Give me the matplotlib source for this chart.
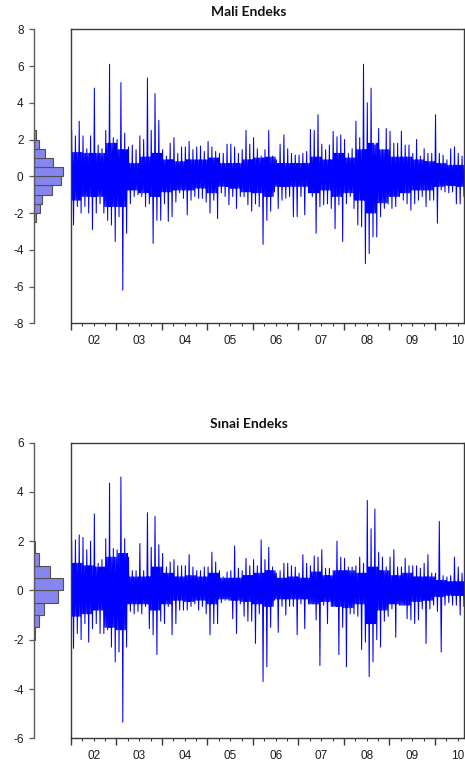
import numpy as np
import matplotlib
matplotlib.use("Agg")
import matplotlib.pyplot as plt
from matplotlib.ticker import FixedLocator, FuncFormatter, NullFormatter

# ---------------- data ----------------
start_year = 2002

# monthly maximum / minimum of daily returns, Jan 2002 ... Aug 2010
mali_max = [2.5, 2.2, 3.0, 2.2, 1.5, 2.2, 4.8, 1.7, 1.5, 2.5,
            6.1, 2.1, 2.0, 5.1, 2.35, 1.6, 1.7, 1.45, 2.2, 2.0,
            5.35, 2.5, 4.5, 3.05, 1.45, 1.1, 1.8, 2.1, 1.25, 1.6,
            1.6, 1.9, 1.45, 1.6, 1.65, 1.35, 1.9, 1.6, 1.35, 1.25,
            1.25, 1.75, 1.75, 1.6, 1.25, 1.45, 2.5, 1.75, 2.1, 1.5,
            1.1, 1.45, 2.5, 1.1, 0.9, 1.75, 2.25, 1.5, 1.25, 1.15,
            1.15, 1.25, 1.35, 2.55, 2.5, 3.35, 1.75, 1.45, 1.7, 2.45,
            2.15, 2.25, 2.0, 1.25, 1.5, 3.0, 2.1, 6.1, 4.0, 4.8,
            1.7, 2.6, 1.45, 2.6, 2.45, 1.8, 1.8, 2.45, 1.7, 1.7,
            1.25, 2.0, 1.1, 1.5, 1.25, 1.25, 3.35, 1.25, 1.15, 0.9,
            1.5, 1.6, 1.25, 1.1]
mali_min = [-2.65, -1.65, -2.0, -1.65, -2.0, -2.9, -2.0, -1.5, -2.0, -2.4,
            -2.65, -3.55, -2.2, -6.2, -3.1, -1.5, -1.1, -1.0, -1.1, -1.65,
            -1.5, -3.65, -2.4, -2.4, -1.5, -2.45, -2.2, -1.4, -0.9, -1.2,
            -2.1, -1.3, -1.1, -1.2, -1.2, -1.4, -2.0, -1.3, -2.3, -0.9,
            -1.1, -1.55, -1.1, -1.75, -1.1, -1.1, -1.55, -1.9, -1.5, -1.65,
            -3.7, -2.4, -1.9, -0.85, -1.75, -1.3, -1.2, -1.1, -2.2, -2.2,
            -1.1, -2.1, -0.9, -1.1, -3.1, -1.65, -1.55, -1.5, -1.75, -2.85,
            -1.55, -3.55, -1.5, -1.1, -1.75, -2.65, -2.75, -4.75, -4.2, -3.3,
            -3.3, -2.2, -1.75, -1.5, -1.75, -1.65, -1.1, -1.3, -1.5, -1.85,
            -1.5, -1.3, -1.1, -1.65, -1.3, -1.3, -2.55, -0.75, -0.85, -0.9,
            -0.85, -1.5, -1.5, -1.1]
# dense core band per quarter (2002Q1 ... 2010Q3)
mali_core_hi = [1.3, 1.25, 1.25, 1.8,
                1.45, 0.7, 1.05, 1.25,
                0.9, 0.8, 0.9, 0.9,
                1.0, 0.7, 0.7, 0.9,
                1.0, 1.05, 0.7, 0.7,
                0.7, 1.05, 0.9, 1.25,
                1.0, 1.45, 1.8, 1.45,
                1.05, 1.05, 0.9, 0.8,
                0.7, 0.6, 0.6]
mali_core_lo = [-1.3, -1.1, -1.1, -1.65,
                -1.65, -0.75, -0.9, -1.1,
                -0.85, -0.75, -0.75, -0.65,
                -0.9, -0.55, -0.65, -0.85,
                -0.9, -1.1, -0.55, -0.55,
                -0.55, -0.9, -0.75, -1.1,
                -0.9, -1.3, -2.0, -1.45,
                -1.1, -0.9, -0.75, -0.75,
                -0.55, -0.5, -0.55]

sinai_max = [2.05, 2.05, 2.25, 2.15, 1.65, 2.0, 3.1, 1.1, 1.25, 2.1,
             4.35, 1.7, 1.65, 4.6, 2.1, 1.35, 0.8, 0.8, 1.9, 0.8,
             3.15, 1.75, 3.0, 1.85, 1.5, 0.95, 1.15, 1.25, 1.0, 1.0,
             1.0, 1.45, 0.95, 0.8, 0.8, 0.95, 0.95, 1.55, 1.15, 0.8,
             0.55, 0.75, 0.8, 1.8, 0.9, 0.8, 1.3, 1.0, 1.25, 1.0,
             2.05, 1.25, 1.75, 0.95, 0.7, 0.8, 1.1, 1.1, 1.0, 0.95,
             0.7, 1.45, 1.1, 1.0, 1.4, 1.35, 1.65, 0.9, 0.9, 0.8,
             2.0, 1.35, 1.3, 0.95, 0.95, 1.0, 1.35, 1.1, 3.65, 2.5,
             3.3, 1.55, 1.35, 0.95, 1.35, 1.65, 0.95, 0.95, 1.3, 1.0,
             1.0, 1.0, 0.9, 1.1, 1.45, 0.7, 0.7, 2.8, 0.6, 0.55,
             0.6, 1.35, 0.95, 0.7]
sinai_min = [-2.35, -1.75, -2.0, -1.35, -2.1, -1.55, -1.35, -1.75, -1.75, -1.6,
             -2.3, -2.9, -2.5, -5.35, -2.3, -0.85, -0.95, -0.85, -0.95, -0.65,
             -1.55, -1.8, -2.6, -1.25, -1.35, -0.65, -1.8, -1.35, -0.8, -0.8,
             -0.8, -0.65, -0.55, -0.8, -0.65, -0.95, -1.8, -1.35, -1.35, -0.5,
             -0.4, -0.4, -1.15, -1.75, -0.55, -1.05, -1.25, -1.25, -2.15, -0.95,
             -3.7, -3.1, -1.5, -0.4, -1.7, -0.65, -1.0, -0.65, -0.65, -1.8,
             -0.55, -1.55, -0.55, -0.55, -1.2, -3.05, -0.6, -1.35, -0.65, -0.65,
             -2.6, -1.5, -3.1, -0.95, -0.95, -1.05, -2.4, -2.1, -3.5, -2.9,
             -2.0, -2.3, -1.25, -1.05, -0.75, -1.9, -0.6, -0.6, -1.15, -1.2,
             -1.35, -1.2, -0.75, -2.15, -0.75, -0.6, -0.85, -2.5, -0.6, -0.5,
             -0.6, -0.6, -1.0, -0.65]
sinai_core_hi = [1.1, 1.0, 0.95, 1.35,
                 1.5, 0.55, 0.55, 0.95,
                 0.7, 0.55, 0.6, 0.55,
                 0.7, 0.5, 0.5, 0.6,
                 0.7, 0.8, 0.5, 0.55,
                 0.5, 0.75, 0.6, 0.8,
                 0.8, 0.7, 0.95, 0.8,
                 0.6, 0.7, 0.55, 0.55,
                 0.4, 0.35, 0.35]
sinai_core_lo = [-1.05, -0.95, -0.8, -1.5,
                 -1.6, -0.55, -0.55, -0.8,
                 -0.55, -0.4, -0.45, -0.4,
                 -0.55, -0.35, -0.4, -0.45,
                 -0.55, -0.65, -0.35, -0.35,
                 -0.35, -0.55, -0.45, -0.65,
                 -0.7, -0.55, -1.35, -0.8,
                 -0.55, -0.6, -0.45, -0.4,
                 -0.25, -0.2, -0.2]

# histograms (bin edges, frequencies)
mali_hist_edges = [-2.5, -2.0, -1.5, -1.0, -0.5, 0.0, 0.5, 1.0, 1.5, 2.0, 2.5]
mali_hist_counts = [40, 95, 145, 305, 460, 495, 325, 180, 85, 40]
sinai_hist_edges = [-2.0, -1.5, -1.0, -0.5, 0.0, 0.5, 1.0, 1.5, 2.0]
sinai_hist_counts = [24, 112, 238, 578, 690, 374, 112, 24]

titles = ["Mali Endeks", "Sınai Endeks"]

# ---------------- drawing ----------------
W, H = 465, 768
fig = plt.figure(figsize=(W / 100, H / 100), dpi=100)

LINE = "#0000FF"
SPINE = "#3a3a3a"
TXT = "#1e1e1e"


def build_series(maxv, minv, core_hi, core_lo):
    xs, ys = [], []
    fr = [0.0, 1 / 6, 2 / 6, 3 / 6, 4 / 6, 5 / 6]
    for i, (hi, lo) in enumerate(zip(maxv, minv)):
        q = i // 3
        ch, cl = core_hi[q], core_lo[q]
        vals = [cl, hi, cl, ch, lo, ch]
        t0 = start_year + i / 12
        for f, v in zip(fr, vals):
            xs.append(t0 + f / 12)
            ys.append(v)
    return np.array(xs), np.array(ys)


def px_box(x0, y0, x1, y1):
    return [x0 / W, 1 - y1 / H, (x1 - x0) / W, (y1 - y0) / H]


panels = [
    dict(top=29.3, bot=323.3, lim=8, ticks=range(-8, 9, 2),
         mx=mali_max, mn=mali_min, ch=mali_core_hi, cl=mali_core_lo,
         he=mali_hist_edges, hc=mali_hist_counts, title_y=12),
    dict(top=442.5, bot=738.3, lim=6, ticks=range(-6, 7, 2),
         mx=sinai_max, mn=sinai_min, ch=sinai_core_hi, cl=sinai_core_lo,
         he=sinai_hist_edges, hc=sinai_hist_counts, title_y=424),
]

hist_x0, main_x0, main_x1 = 34.0, 71.0, 464.0
quarters = [2002 + q / 4 for q in range(0, 4 * 9 + 1)]
year_starts = list(range(2002, 2012))

for k, p in enumerate(panels):
    # main time-series axes
    ax = fig.add_axes(px_box(main_x0, p["top"], main_x1, p["bot"]))
    xs, ys = build_series(p["mx"], p["mn"], p["ch"], p["cl"])
    ax.plot(xs, ys, color=LINE, lw=0.75)
    ax.set_xlim(2002.0, 2010.64)
    ax.set_ylim(-p["lim"], p["lim"])
    ax.set_yticks([])
    for s in ax.spines.values():
        s.set_color(SPINE)
        s.set_linewidth(1.0)
    ax.xaxis.set_major_locator(FixedLocator(year_starts))
    ax.xaxis.set_minor_locator(FixedLocator(quarters))
    ax.xaxis.set_major_formatter(NullFormatter())
    ax.xaxis.set_minor_formatter(FuncFormatter(
        lambda x, pos: f"{int(np.floor(x)) % 100:02d}" if abs(x - np.floor(x) - 0.5) < 1e-6 else ""))
    ax.tick_params(axis="x", which="major", length=5, width=1.0, color=SPINE, direction="out")
    ax.tick_params(axis="x", which="minor", length=2.5, width=0.8, color=SPINE, direction="out",
                   labelsize=8.5, labelcolor=TXT, pad=6)
    for lab in ax.get_xticklabels(minor=True):
        lab.set_fontfamily("Liberation Sans")

    # histogram axes
    hx = fig.add_axes(px_box(hist_x0, p["top"], main_x0, p["bot"]))
    edges = np.array(p["he"])
    centers = (edges[:-1] + edges[1:]) / 2
    heights = np.diff(edges)
    counts = np.array(p["hc"])
    hx.barh(centers, counts, height=heights, color="#8686F0", edgecolor="#505050", linewidth=0.8)
    hx.set_ylim(-p["lim"], p["lim"])
    hx.set_xlim(0, max(counts) * 37.0 / 29.0)
    hx.set_xticks([])
    hx.set_yticks(list(p["ticks"]))
    hx.set_yticklabels([str(t) for t in p["ticks"]], fontfamily="Liberation Sans")
    for side in ["top", "right", "bottom"]:
        hx.spines[side].set_visible(False)
    hx.spines["left"].set_color("#5a5a5a")
    hx.spines["left"].set_linewidth(1.0)
    hx.tick_params(axis="y", length=3.5, width=0.9, color="#5a5a5a", labelsize=8.5,
                   labelcolor=TXT, pad=4)
    hx.patch.set_alpha(0)

    fig.text(249 / W, 1 - p["title_y"] / H, titles[k], ha="center", va="center",
             fontsize=10, fontweight="bold", fontfamily="Lato", color="#111111")

fig.savefig("out.png", dpi=100)
